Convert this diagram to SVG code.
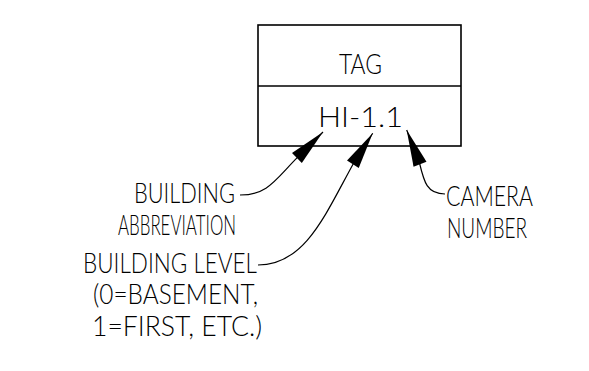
<svg xmlns="http://www.w3.org/2000/svg" width="589" height="371" viewBox="0 0 589 371">
<style>
  .bg { fill: #ffffff; }
  .box { fill: none; stroke: #000; stroke-width: 1.6; }
  .lbl { font-family: "Lato", "Liberation Sans", sans-serif; font-weight: 300; font-size: 27px; fill: #000; }
  .mid { text-anchor: middle; }
  .conn { fill: none; stroke: #000; stroke-width: 1.2; }
</style>
<defs>
  <marker id="arrow" markerUnits="userSpaceOnUse" markerWidth="40" markerHeight="20" refX="0" refY="0" viewBox="-36 -8 38 16" orient="auto" overflow="visible">
    <path d="M0,0 L-35,-6.6 L-35,6.6 Z" fill="#000"/>
  </marker>
</defs>
<rect class="bg" x="0" y="0" width="589" height="371"/>
<g id="tag-box">
  <rect class="box" x="258" y="25" width="203" height="121"/>
  <line class="box" x1="258" y1="86" x2="461" y2="86"/>
  <text class="lbl" x="339" y="74" textLength="43" lengthAdjust="spacingAndGlyphs">TAG</text>
  <text class="lbl" x="318" y="127" textLength="85" lengthAdjust="spacingAndGlyphs">HI-1.1</text>
</g>
<g id="building-abbreviation">
  <text class="lbl" x="134" y="203" textLength="101" lengthAdjust="spacingAndGlyphs">BUILDING</text>
  <text class="lbl" x="118" y="235" textLength="118" lengthAdjust="spacingAndGlyphs">ABBREVIATION</text>
</g>
<g id="building-level">
  <text class="lbl" x="83" y="273" textLength="174" lengthAdjust="spacingAndGlyphs">BUILDING LEVEL</text>
  <text class="lbl" x="93" y="304" textLength="165" lengthAdjust="spacingAndGlyphs">(0=BASEMENT,</text>
  <text class="lbl" x="92" y="336" textLength="170" lengthAdjust="spacingAndGlyphs">1=FIRST, ETC.)</text>
</g>
<g id="camera-number">
  <text class="lbl" x="446" y="206" textLength="87" lengthAdjust="spacingAndGlyphs">CAMERA</text>
  <text class="lbl" x="447" y="238" textLength="80" lengthAdjust="spacingAndGlyphs">NUMBER</text>
</g>
<g id="connectors">
  <path class="conn" d="M240,195 C268,195 275,180 297.7,157.2 L323,132" marker-end="url(#arrow)"/>
  <path class="conn" d="M258,265 C305,265 325,215 353.3,163.7 L372.7,133.3" marker-end="url(#arrow)"/>
  <path class="conn" d="M445,194 C427,194 424,182 419.5,163 L406.7,130" marker-end="url(#arrow)"/>
</g>
</svg>
